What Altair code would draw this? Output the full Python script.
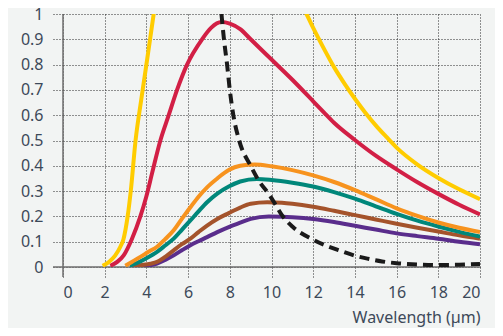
import altair as alt
import pandas as pd

# ---- data ----
x_ticks = [0, 2, 4, 6, 8, 10, 12, 14, 16, 18, 20]
y_ticks = [0, 0.1, 0.2, 0.3, 0.4, 0.5, 0.6, 0.7, 0.8, 0.9, 1.0]

wl_yellow_a = [1.9, 2.2, 2.5, 2.75, 2.9, 3.1, 3.25, 3.48, 3.75, 4.0, 4.35, 4.7]
v_yellow_a = [0.005, 0.02, 0.045, 0.08, 0.11, 0.2, 0.3, 0.5, 0.66, 0.8, 1.0, 1.2]
wl_yellow_b = [11.3, 11.68, 12.0, 12.5, 13.0, 13.5, 14.0, 14.5, 15.0, 15.5, 16.0, 17.0, 18.0, 19.0, 20.0]
v_yellow_b = [1.06, 1.0, 0.945, 0.865, 0.79, 0.725, 0.665, 0.61, 0.56, 0.515, 0.472, 0.405, 0.352, 0.307, 0.268]

wl_red = [2.27, 2.6, 2.91, 3.3, 3.71, 4.0, 4.27, 4.67, 5.07, 5.47, 5.95, 6.67, 7.1, 7.6, 8.0, 8.5, 9.0,
          10.0, 11.0, 12.0, 12.5, 13.0, 14.0, 15.0, 16.0, 17.0, 18.0, 19.0, 20.0]
v_red = [0.005, 0.02, 0.046, 0.11, 0.2, 0.28, 0.37, 0.5, 0.6, 0.7, 0.8, 0.9, 0.945, 0.968, 0.962, 0.94, 0.9,
         0.82, 0.74, 0.655, 0.612, 0.57, 0.502, 0.44, 0.386, 0.335, 0.289, 0.246, 0.208]

wl_orange = [2.99, 3.3, 3.71, 4.1, 4.51, 4.9, 5.31, 5.7, 6.11, 6.5, 6.91, 7.4, 7.95, 8.5, 9.2, 10.0, 11.0,
             12.0, 13.0, 14.0, 15.0, 16.0, 17.0, 18.0, 19.0, 20.0]
v_orange = [0.005, 0.02, 0.04, 0.06, 0.08, 0.11, 0.145, 0.19, 0.236, 0.278, 0.315, 0.35, 0.383, 0.4, 0.405,
            0.398, 0.383, 0.362, 0.336, 0.304, 0.268, 0.232, 0.202, 0.176, 0.155, 0.138]

wl_teal = [3.2, 3.6, 4.0, 4.51, 4.9, 5.31, 5.7, 6.11, 6.5, 6.91, 7.4, 7.95, 8.5, 9.3, 10.0, 11.0, 12.0,
           13.0, 14.0, 15.0, 16.0, 17.0, 18.0, 19.0, 20.0]
v_teal = [0.005, 0.018, 0.035, 0.06, 0.085, 0.112, 0.147, 0.184, 0.22, 0.256, 0.29, 0.318, 0.338, 0.348,
          0.344, 0.333, 0.318, 0.296, 0.27, 0.24, 0.21, 0.183, 0.16, 0.139, 0.12]

wl_brown = [3.31, 3.8, 4.2, 4.51, 4.9, 5.31, 5.7, 6.11, 6.5, 6.91, 7.4, 7.95, 8.5, 9.0, 9.8, 10.5, 11.0,
            12.0, 13.0, 14.0, 15.0, 16.0, 17.0, 18.0, 19.0, 20.0]
v_brown = [0.004, 0.008, 0.013, 0.02, 0.04, 0.066, 0.09, 0.112, 0.138, 0.164, 0.19, 0.213, 0.235, 0.25,
           0.256, 0.254, 0.25, 0.238, 0.222, 0.205, 0.188, 0.171, 0.155, 0.14, 0.125, 0.112]

wl_purple = [3.7, 4.1, 4.51, 4.9, 5.31, 5.7, 6.11, 6.5, 6.91, 7.4, 7.95, 8.5, 9.0, 9.87, 10.5, 11.0, 12.0,
             13.0, 14.0, 15.0, 16.0, 17.0, 18.0, 19.0, 20.0]
v_purple = [0.003, 0.006, 0.013, 0.028, 0.046, 0.066, 0.086, 0.102, 0.118, 0.138, 0.158, 0.175, 0.19, 0.2,
            0.199, 0.197, 0.19, 0.178, 0.163, 0.148, 0.133, 0.122, 0.112, 0.1, 0.09]

wl_dash = [7.6, 7.72, 7.87, 8.0, 8.17, 8.45, 9.0, 9.4, 9.9, 10.2, 10.5, 11.0, 11.95, 12.6, 13.3, 14.0,
           14.6, 15.3, 16.0, 17.0, 18.0, 19.0, 20.0]
v_dash = [1.0, 0.9, 0.8, 0.7, 0.6, 0.5, 0.4, 0.34, 0.285, 0.245, 0.205, 0.16, 0.11, 0.085, 0.064, 0.045,
          0.033, 0.022, 0.015, 0.01, 0.008, 0.009, 0.012]

TEXT = "#3d4959"
FONT = "Noto Sans"
GRID = "#2a2a2a"
AXIS = "#6e6e6e"
W, H = 417, 253

x_axis = alt.Axis(
    values=x_ticks, title="Wavelength (µm)", titleAnchor="end", titleFontWeight="normal",
    titleFontSize=16, titleColor=TEXT, titleFont=FONT, titlePadding=9,
    labelFontSize=16, labelColor=TEXT, labelFont=FONT, labelPadding=7,
    domain=False, tickSize=10, tickDash=[1, 2], tickColor=GRID, tickWidth=1,
    grid=True, gridDash=[1, 2], gridColor=GRID, gridWidth=1, gridOpacity=1,
)
y_axis = alt.Axis(
    values=y_ticks, title=None, format="~g",
    labelFontSize=16, labelColor=TEXT, labelFont=FONT, labelPadding=10,
    domain=False, tickSize=10, tickDash=[1, 2], tickColor=GRID, tickWidth=1,
    grid=True, gridDash=[1, 2], gridColor=GRID, gridWidth=1, gridOpacity=1,
)

xs = alt.Scale(domain=[0, 20], nice=False, zero=False)
ys = alt.Scale(domain=[0, 1], nice=False)


def line(wl, v, color, dash=None, width=4):
    df = pd.DataFrame({"wl": wl, "v": v})
    kw = dict(color=color, strokeWidth=width, interpolate="monotone", clip=True)
    if dash:
        kw["strokeDash"] = dash
        kw["strokeCap"] = "butt"
    return alt.Chart(df).mark_line(**kw).encode(
        x=alt.X("wl:Q", scale=xs, axis=x_axis),
        y=alt.Y("v:Q", scale=ys, axis=y_axis),
    )


axis_df = pd.DataFrame({"zero": [0]})
x_line = alt.Chart(axis_df).mark_rule(color=AXIS, strokeWidth=1.5).encode(
    y=alt.Y("zero:Q", scale=ys, axis=y_axis), x=alt.value(-10), x2=alt.value(W))
y_line = alt.Chart(axis_df).mark_rule(color=AXIS, strokeWidth=1.5).encode(
    x=alt.X("zero:Q", scale=xs, axis=x_axis), y=alt.value(0), y2=alt.value(H + 10))

layers = [
    x_line,
    y_line,
    line(wl_purple, v_purple, "#5a2d8c"),
    line(wl_brown, v_brown, "#a4532b"),
    line(wl_teal, v_teal, "#00877a"),
    line(wl_orange, v_orange, "#f7931e"),
    line(wl_red, v_red, "#d21f45"),
    line(wl_yellow_a, v_yellow_a, "#ffcc00"),
    line(wl_yellow_b, v_yellow_b, "#ffcc00"),
    line(wl_dash, v_dash, "#1a1a1a", dash=[10, 6], width=4),
]

chart = alt.layer(*layers).properties(
    width=W, height=H,
    autosize=alt.AutoSizeParams(type="none"),
    padding={"left": 55, "top": 6, "right": 15, "bottom": 61},
    background="#f2f4f3",
).configure_view(stroke=None)

chart.save("out.html", embed_options={"renderer": "svg", "actions": False})
